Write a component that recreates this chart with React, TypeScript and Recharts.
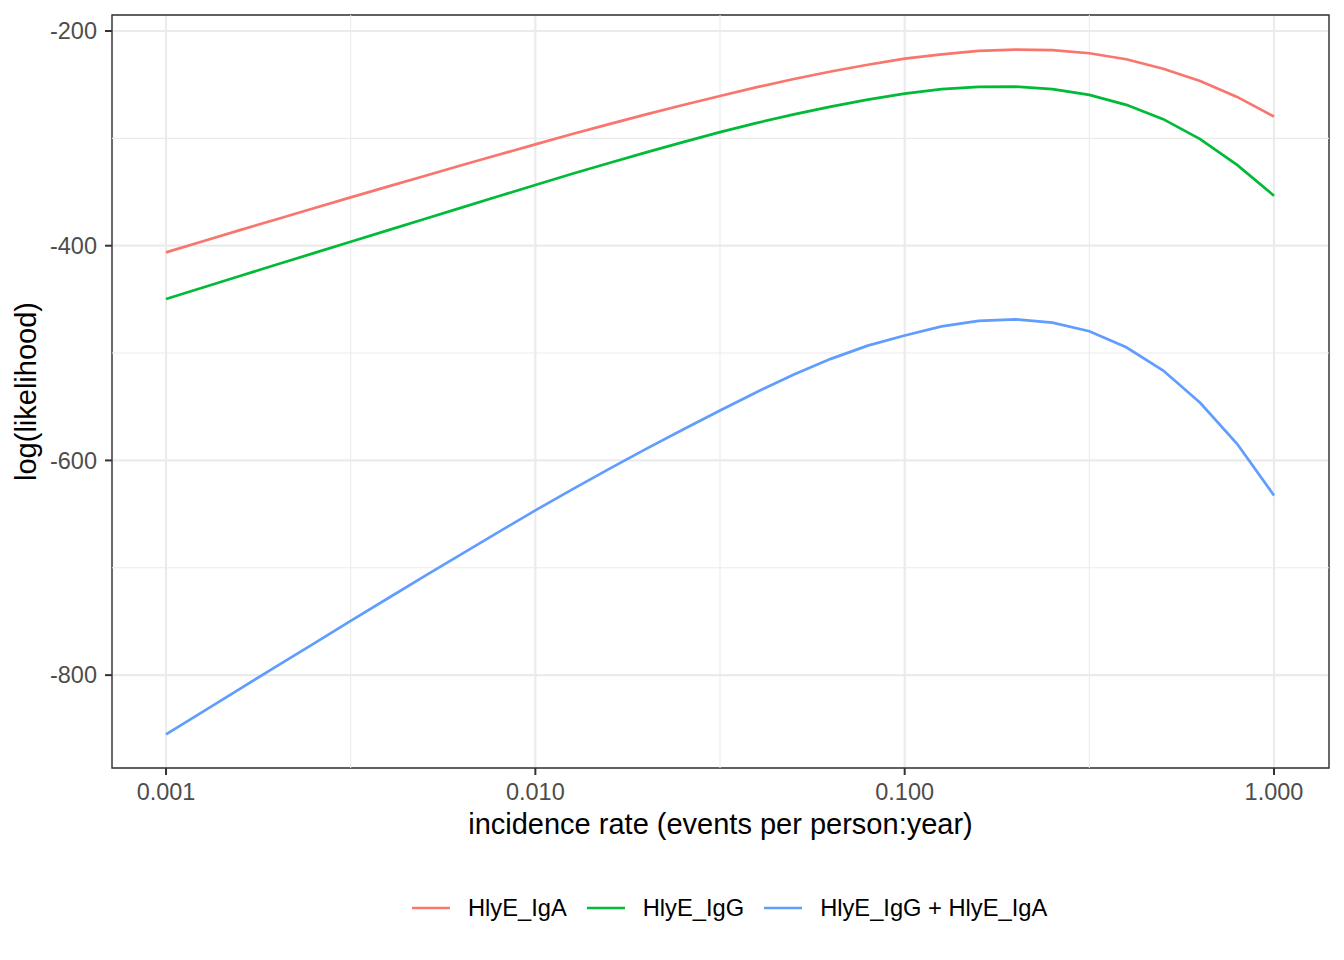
import React from 'react';
import {
  LineChart,
  Line,
  XAxis,
  YAxis,
  CartesianGrid,
  ReferenceLine,
  ReferenceArea,
  Legend,
  Label,
} from 'recharts';

// incidence rate grid (events per person:year), log-spaced
const rates = [
  0.001, 0.001259, 0.001585, 0.001995, 0.002512, 0.003162, 0.003981, 0.005012, 0.00631, 0.007943,
  0.01, 0.012589, 0.015849, 0.019953, 0.025119, 0.031623, 0.039811, 0.050119, 0.063096, 0.079433,
  0.1, 0.125893, 0.158489, 0.199526, 0.251189, 0.316228, 0.398107, 0.501187, 0.630957, 0.794328,
  1.0,
];

const hlyeIgA = [
  -406.2, -395.8, -385.5, -375.3, -365.1, -355.0, -345.0, -335.0, -325.1, -315.3,
  -305.6, -296.0, -286.7, -277.7, -268.9, -260.5, -252.3, -244.7, -237.7, -231.4,
  -225.8, -221.7, -218.6, -217.4, -217.9, -220.7, -226.3, -235.1, -246.5, -261.4,
  -279.7,
];

const hlyeIgG = [
  -449.6, -438.9, -428.2, -417.5, -406.9, -396.3, -385.7, -375.1, -364.5, -354.0,
  -343.4, -333.0, -322.9, -313.1, -303.5, -294.2, -285.6, -277.7, -270.5, -264.0,
  -258.3, -254.2, -252.1, -251.8, -254.2, -259.5, -268.8, -282.1, -300.7, -324.7,
  -353.5,
];

const hlyeBoth = [
  -855.2, -834.0, -812.8, -791.6, -770.6, -749.5, -728.6, -707.8, -687.2, -666.8,
  -646.5, -626.9, -607.9, -589.3, -571.2, -553.5, -536.2, -520.0, -505.4, -493.1,
  -483.7, -475.1, -470.0, -468.6, -471.6, -479.7, -494.6, -516.3, -546.3, -584.5,
  -632.6,
];

const xTicks = [0.001, 0.01, 0.1, 1];
const xMinor = [0.003162, 0.031623, 0.316228];
const yTicks = [-800, -600, -400, -200];
const yMinor = [-700, -500, -300];

const seriesKeys = ['iga', 'igg', 'both'];
const seriesNames = ['HlyE_IgA', 'HlyE_IgG', 'HlyE_IgG + HlyE_IgA'];
const seriesColors = ['#F8766D', '#00BA38', '#619CFF'];

const X_DOMAIN: [number, number] = [0.000714, 1.409];
const Y_DOMAIN: [number, number] = [-886.5, -185.1];

const data = rates.map((r, i) => ({
  rate: r,
  iga: hlyeIgA[i],
  igg: hlyeIgG[i],
  both: hlyeBoth[i],
}));

const FONT = '"Liberation Sans", Arial, Helvetica, sans-serif';
const TICK_FONT = 23.5;
const LEGEND_FONT = 23.7;
const TITLE_FONT = 29;

const renderLegend = () => (
  <div
    style={{
      display: 'flex',
      alignItems: 'center',
      height: 36,
      paddingLeft: 412,
      fontSize: LEGEND_FONT,
      color: '#000000',
      fontFamily: FONT,
      whiteSpace: 'nowrap',
    }}
  >
    {seriesNames.map((n, i) => (
      <div key={n} style={{ display: 'flex', alignItems: 'center', marginRight: 20 }}>
        <svg width={38} height={6} style={{ display: 'block' }}>
          <line x1={0} x2={38} y1={3} y2={3} stroke={seriesColors[i]} strokeWidth={2.7} />
        </svg>
        <span style={{ marginLeft: 18 }}>{n}</span>
      </div>
    ))}
  </div>
);

export default function App() {
  return (
    <div
      style={{
        position: 'absolute',
        left: 0,
        top: 0,
        width: 1344,
        height: 960,
        background: '#ffffff',
        fontFamily: FONT,
      }}
    >
      <LineChart
        width={1344}
        height={960}
        data={data}
        margin={{ top: 15, right: 15, bottom: 122, left: 0 }}
      >
        <CartesianGrid stroke="#EBEBEB" strokeWidth={2.2} />
        {xMinor.map((v) => (
          <ReferenceLine key={'xm' + v} x={v} stroke="#EBEBEB" strokeWidth={1.1} />
        ))}
        {yMinor.map((v) => (
          <ReferenceLine key={'ym' + v} y={v} stroke="#EBEBEB" strokeWidth={1.1} />
        ))}
        <XAxis
          dataKey="rate"
          type="number"
          scale="log"
          domain={X_DOMAIN}
          allowDataOverflow
          ticks={xTicks}
          tickFormatter={(v: number) => v.toFixed(3)}
          axisLine={false}
          tickLine={{ stroke: '#333333', strokeWidth: 2 }}
          tickSize={7}
          tickMargin={8}
          tick={{ fill: '#4D4D4D', fontSize: TICK_FONT }}
          height={70}
          interval={0}
        >
          <Label
            content={(props: any) => {
              const vb = props.viewBox || { x: 112, y: 768, width: 1217, height: 70 };
              return (
                <text
                  x={vb.x + vb.width / 2}
                  y={vb.y + 66}
                  textAnchor="middle"
                  fontSize={TITLE_FONT}
                  fill="#000000"
                  fontFamily={FONT}
                >
                  incidence rate (events per person:year)
                </text>
              );
            }}
          />
        </XAxis>
        <YAxis
          type="number"
          domain={Y_DOMAIN}
          allowDataOverflow
          ticks={yTicks}
          axisLine={false}
          tickLine={{ stroke: '#333333', strokeWidth: 2 }}
          tickSize={7}
          tickMargin={8}
          tick={{ fill: '#4D4D4D', fontSize: TICK_FONT }}
          width={112}
          interval={0}
        >
          <Label
            content={(props: any) => {
              const vb = props.viewBox || { x: 0, y: 15, width: 112, height: 753 };
              const cx = vb.x + 36;
              const cy = vb.y + vb.height / 2;
              return (
                <text
                  x={cx}
                  y={cy}
                  transform={`rotate(-90, ${cx}, ${cy})`}
                  textAnchor="middle"
                  fontSize={TITLE_FONT}
                  fill="#000000"
                  fontFamily={FONT}
                >
                  log(likelihood)
                </text>
              );
            }}
          />
        </YAxis>
        {seriesKeys.map((k, i) => (
          <Line
            key={k}
            type="linear"
            dataKey={k}
            name={seriesNames[i]}
            stroke={seriesColors[i]}
            strokeWidth={2.7}
            dot={false}
            activeDot={false}
            isAnimationActive={false}
          />
        ))}
        <ReferenceArea
          x1={X_DOMAIN[0]}
          x2={X_DOMAIN[1]}
          y1={Y_DOMAIN[0]}
          y2={Y_DOMAIN[1]}
          fill="none"
          fillOpacity={0}
          stroke="#333333"
          strokeWidth={1.4}
          ifOverflow="visible"
        />
        <Legend
          layout="horizontal"
          verticalAlign="middle"
          align="center"
          content={renderLegend}
          wrapperStyle={{ left: 0, top: 890, width: 1344, height: 36 }}
        />
      </LineChart>
    </div>
  );
}
